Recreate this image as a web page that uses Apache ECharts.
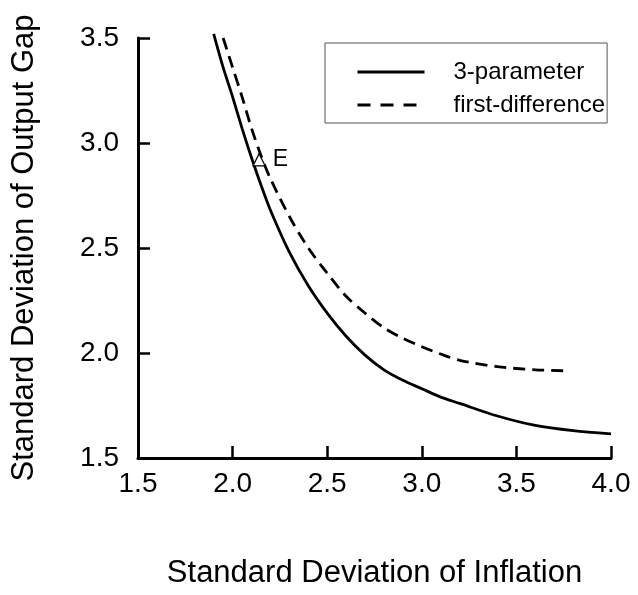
<!DOCTYPE html>
<html>
<head>
<meta charset="utf-8">
<script src="https://cdn.jsdelivr.net/npm/echarts@6/dist/echarts.min.js"></script>
<style>html,body{margin:0;padding:0;background:#fff}#c{width:638px;height:595px}</style>
</head>
<body>
<div id="c"></div>
<script>
const xTicks = [1.5, 2.0, 2.5, 3.0, 3.5, 4.0];
const yTicks = [1.5, 2.0, 2.5, 3.0, 3.5];
const seriesNames = ['3-parameter', 'first-difference'];
const threeParamX = [1.90, 1.95, 2.00, 2.05, 2.10, 2.15, 2.20, 2.30, 2.40, 2.50, 2.60, 2.70, 2.80, 2.90, 3.00, 3.10, 3.20, 3.40, 3.60, 3.80, 4.00];
const threeParamY = [3.52, 3.36, 3.22, 3.07, 2.93, 2.80, 2.68, 2.48, 2.32, 2.19, 2.08, 1.99, 1.92, 1.87, 1.83, 1.79, 1.76, 1.70, 1.655, 1.63, 1.615];
const firstDiffX = [1.95, 2.00, 2.05, 2.10, 2.15, 2.20, 2.30, 2.40, 2.50, 2.60, 2.70, 2.80, 2.90, 3.00, 3.10, 3.20, 3.40, 3.60, 3.77];
const firstDiffY = [3.50, 3.36, 3.22, 3.07, 2.94, 2.83, 2.65, 2.50, 2.38, 2.27, 2.19, 2.12, 2.07, 2.03, 1.995, 1.965, 1.935, 1.92, 1.915];
const pointE = [2.14, 2.92];
const pointLabel = 'E';
const xTitle = 'Standard Deviation of Inflation';
const yTitle = 'Standard Deviation of Output Gap';

const font = '"Liberation Sans", Arial, sans-serif';
const zip = (a, b) => a.map((v, i) => [v, b[i]]);

const chart = echarts.init(document.getElementById('c'), null, {renderer: 'canvas'});
const axisLine = {show: true, lineStyle: {color: '#000', width: 3}};
const axisTick = {show: true, inside: true, length: 12, lineStyle: {color: '#000', width: 2.5}};
const labelBase = {color: '#000', fontSize: 28, fontFamily: font, formatter: v => v.toFixed(1)};
chart.setOption({
  animation: false,
  backgroundColor: '#fff',
  grid: {left: 138, right: 27, top: 38, bottom: 137, containLabel: false},
  legend: {
    data: [
      {name: seriesNames[0], lineStyle: {width: 3, type: 'solid', color: '#000'}},
      {name: seriesNames[1], lineStyle: {width: 3, type: [13, 10], color: '#000'}}
    ],
    orient: 'vertical',
    left: 325, top: 43,
    backgroundColor: '#fff',
    borderColor: '#555', borderWidth: 1,
    padding: [17, 2, 6, 31],
    itemWidth: 67, itemHeight: 14, itemGap: 9,
    itemStyle: {opacity: 0},
    textStyle: {fontSize: 24, color: '#000', fontFamily: font, lineHeight: 24, padding: [0, 0, 0, 24]}
  },
  xAxis: {
    type: 'value', min: 1.5, max: 4.0, interval: 0.5,
    name: xTitle, nameLocation: 'middle', nameGap: 100,
    nameTextStyle: {fontSize: 31, color: '#000', fontFamily: font},
    axisLine, axisTick, splitLine: {show: false},
    axisLabel: Object.assign({}, labelBase, {margin: 12})
  },
  yAxis: {
    type: 'value', min: 1.5, max: 3.5, interval: 0.5,
    name: yTitle, nameLocation: 'middle', nameGap: 98,
    nameTextStyle: {fontSize: 31, color: '#000', fontFamily: font},
    axisLine, axisTick, splitLine: {show: false},
    axisLabel: Object.assign({}, labelBase, {margin: 19})
  },
  series: [
    {
      name: seriesNames[0], type: 'line', data: zip(threeParamX, threeParamY),
      smooth: 0.3, showSymbol: false, symbol: 'none', clip: false,
      lineStyle: {color: '#000', width: 2.8, type: 'solid'},
      itemStyle: {color: '#000'}
    },
    {
      name: seriesNames[1], type: 'line', data: zip(firstDiffX, firstDiffY),
      smooth: 0.3, showSymbol: false, symbol: 'none', clip: false,
      lineStyle: {color: '#000', width: 2.8, type: [12, 7]},
      itemStyle: {color: '#000'}
    },
    {
      type: 'scatter', data: [pointE], symbol: 'triangle', symbolSize: 12,
      itemStyle: {color: '#fff', borderColor: '#000', borderWidth: 1.3, opacity: 1},
      label: {show: true, position: 'right', distance: 7, formatter: pointLabel, fontSize: 23, color: '#000', fontFamily: font},
      emphasis: {disabled: true},
      z: 5
    }
  ]
});
</script>
</body>
</html>
